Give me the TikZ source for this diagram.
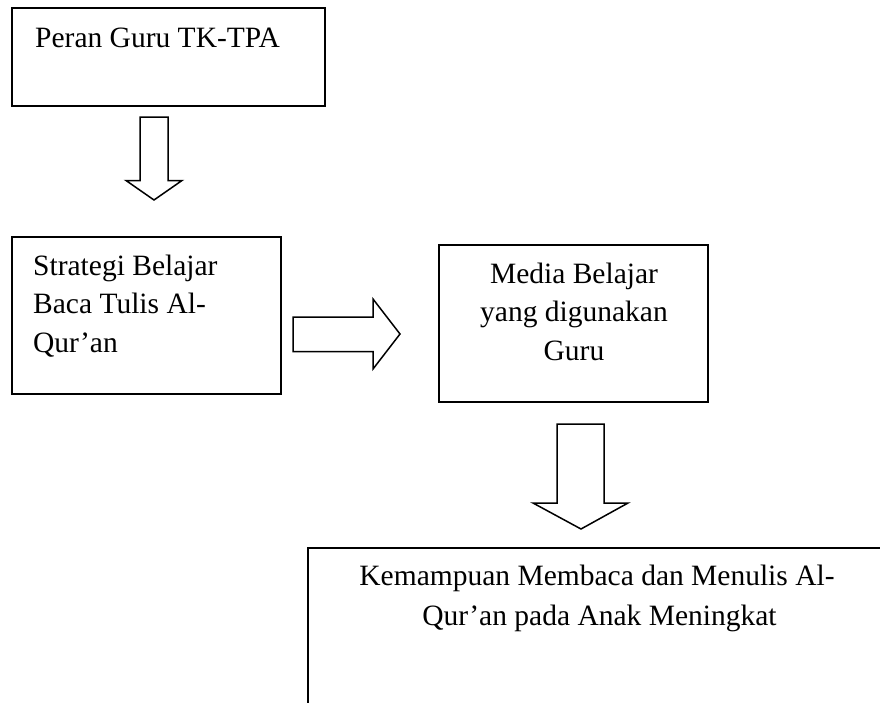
\documentclass[tikz,border=0pt]{standalone}
\usepackage{fontspec}
\setmainfont{Liberation Serif}
\begin{document}
\begin{tikzpicture}[x=1pt,y=-1pt,
  box/.style={draw=black,line width=1.8pt,fill=white},
  blockarrow/.style={draw=black,line width=1.5pt,fill=white,line join=miter},
  txt/.style={inner sep=0pt,font=\fontsize{29.5}{38}\selectfont,text=black}]
\clip (0,0) rectangle (880,702);
\fill[white] (0,0) rectangle (880,702);
% boxes
\draw[box] (12,8) rectangle (325,106);
\draw[box] (12,237) rectangle (281,394);
\draw[box] (439,245) rectangle (708,402);
\draw[box] (308,548) rectangle (900,720);
% texts
\node[txt,anchor=base west] (t1) at (35,47) {Peran Guru TK-TPA};
\node[txt,anchor=base west] (t2a) at (33,275) {Strategi Belajar};
\node[txt,anchor=base west] (t2b) at (33,313.5) {Baca Tulis Al-};
\node[txt,anchor=base west] (t2c) at (33,352) {Qur’an};
\node[txt,anchor=base] (t3a) at (574,283) {Media Belajar};
\node[txt,anchor=base] (t3b) at (574,321.5) {yang digunakan};
\node[txt,anchor=base] (t3c) at (574,360) {Guru};
\node[txt,anchor=base] (t4a) at (597,585) {Kemampuan Membaca dan Menulis Al-};
\node[txt,anchor=base] (t4b) at (599.5,625) {Qur’an pada Anak Meningkat};
% block arrows
\draw[blockarrow] (140,117) -- (168,117) -- (168,180.5) -- (182,180.5) -- (154,200)
  -- (126,180.5) -- (140,180.5) -- cycle;
\draw[blockarrow] (293,317) -- (373,317) -- (373,299) -- (400,334) -- (373,369)
  -- (373,351.5) -- (293,351.5) -- cycle;
\draw[blockarrow] (557,424) -- (604,424) -- (604,503) -- (628,503) -- (581,529)
  -- (533,503) -- (557,503) -- cycle;
\end{tikzpicture}
\end{document}
